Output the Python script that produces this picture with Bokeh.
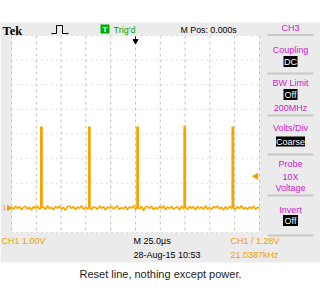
import numpy as np
from bokeh.plotting import figure
from bokeh.models import Range1d
from bokeh.core.properties import value
from bokeh.embed import file_html
from bokeh.resources import INLINE

# ---------------- data ----------------
pulse_times_us = [-95.5, -47.2, 1.5, 49.0, 97.5]
pulse_peaks_v = [3.30, 3.30, 3.30, 3.30, 3.30]
pulse_width_us = 1.3
trigger_level_v = 1.28
baseline_noise_v = [0.04, -0.06, 0.08, -0.03, 0.05, -0.08, 0.02, 0.07, -0.05, 0.03,
                    -0.09, 0.06, -0.02, 0.08, -0.06, 0.01, 0.05, -0.07, 0.09, -0.04,
                    0.03, -0.08, 0.06, -0.01, 0.07, -0.05, 0.02, -0.10, 0.05, 0.08,
                    -0.03, 0.06, -0.07, 0.04, -0.02, 0.09, -0.06, 0.03, -0.04, 0.07,
                    -0.08, 0.05, 0.01, -0.06, 0.08, -0.03, 0.06, -0.09, 0.04, -0.02,
                    0.07, -0.05, 0.03, 0.08, -0.07, 0.02, -0.04, 0.06, -0.08, 0.05,
                    -0.01, 0.09, -0.06, 0.03, -0.05, 0.07, -0.12, 0.04, 0.06, -0.03,
                    0.08, -0.07, 0.02, -0.05, 0.06, -0.02, 0.09, -0.08, 0.04, -0.03,
                    0.07, -0.06, 0.01, 0.05, -0.09, 0.08, -0.04, 0.03, -0.07, 0.06,
                    -0.02, 0.05, -0.08, 0.07, -0.03, 0.04, -0.06, 0.09, -0.05, 0.02,
                    -0.07, 0.06, -0.01, 0.08, -0.04, 0.03, -0.09, 0.05, -0.06, 0.07,
                    -0.02, 0.04, -0.08, 0.06, -0.03, 0.09, -0.05, 0.02, -0.07, 0.05,
                    -0.04, 0.08, -0.06, 0.03, -0.02]
time_span_us = [-125.0, 125.0]
panel_labels = ["CH3", "Coupling", "BW Limit", "200MHz", "Volts/Div", "Probe", "10X", "Voltage", "Invert"]
panel_boxes = ["DC", "Off", "Coarse", "Off"]
header_texts = ["Tek", "Trig'd", "M Pos: 0.000s"]
status_row1 = ["CH1  1.00V", "M 25.0\u00b5s", "CH1 / 1.28V"]
status_row2 = ["28-Aug-15 10:53", "21.0387kHz"]
caption = "Reset line, nothing except power."

# ---------------- build trace ----------------
t_base = np.linspace(time_span_us[0], time_span_us[1], len(baseline_noise_v))
pts = list(zip(t_base, baseline_noise_v))
for tp, vp in zip(pulse_times_us, pulse_peaks_v):
    pts += [(tp - 0.05, 0.0), (tp, vp), (tp + pulse_width_us, vp), (tp + pulse_width_us + 0.05, 0.0)]
pts.sort(key=lambda a: a[0])
tr_t = [a[0] for a in pts]
tr_v = [a[1] for a in pts]

# ---------------- layout ----------------
W, H = 320, 300
L, R, T, B = 11, 259, 35, 232
CX = 135.0
px_div_x = (R - L) / 10.0
px_div_y = (B - T) / 8.0
G = T + 7 * px_div_y          # ground level pixel
us_div = 25.0

p = figure(width=W, height=H, output_backend="svg", toolbar_location=None,
           x_axis_type=None, y_axis_type=None,
           x_range=Range1d(0, W), y_range=Range1d(H, 0), min_border=0)
p.min_border_left = p.min_border_right = p.min_border_top = p.min_border_bottom = 0
p.outline_line_color = None
p.background_fill_color = "white"
p.border_fill_color = "white"

p.extra_x_ranges = {"t": Range1d((0 - CX) / px_div_x * us_div, (W - CX) / px_div_x * us_div)}
p.extra_y_ranges = {"v": Range1d((G - H) / px_div_y, G / px_div_y)}

GRAY = "#ebebeb"
MAG = "#cc22cc"
ORG = "#f2a000"
FONT = value("Liberation Sans")

# scope background
p.quad(left=0, right=W, top=22, bottom=262, fill_color=GRAY, line_color=None)
p.quad(left=L, right=R, top=T, bottom=B, fill_color="white", line_color=None)

# grid
for i in range(11):
    x = L + i * px_div_x
    p.line([x, x], [T, B], line_color="#c4c4c4", line_width=1, line_dash="3 3")
for j in range(9):
    y = T + j * px_div_y
    p.line([L, R], [y, y], line_color="#c4c4c4", line_width=1, line_dash="1 4")

# trace
p.line(tr_t, tr_v, x_range_name="t", y_range_name="v", line_color="#f7a300", line_width=1.5)

# trigger level marker and ground marker
p.scatter([121.5], [trigger_level_v], x_range_name="t", y_range_name="v", marker="triangle",
          angle=np.pi / 2, size=6, fill_color=ORG, line_color=ORG)
p.scatter([8.5], [0.0], y_range_name="v", marker="triangle", angle=-np.pi / 2,
          size=5, fill_color=ORG, line_color=ORG)
p.text([1.5], [0.0], text=["1"], y_range_name="v", text_font=FONT, text_font_size="8px",
       text_color=ORG, text_baseline="middle", text_align="left")

# trigger position arrow at top
p.scatter([0.0], [40.5], x_range_name="t", marker="inverted_triangle", size=5,
          fill_color="black", line_color="black")
p.line([CX, CX], [36, 40], line_color="black", line_width=1)

# header
p.text([2], [30.5], text=[header_texts[0]], text_font=value("Liberation Serif"), text_font_style="bold",
       text_font_size="12.5px", text_color="black", text_baseline="middle")
p.line([51, 56, 56, 62, 62, 68], [33, 33, 25, 25, 33, 33], line_color="black", line_width=1)
p.quad(left=100, right=109, top=24, bottom=33, fill_color="#00b000", line_color=None)
p.text([104.5], [28.8], text=["T"], text_font=FONT, text_font_style="bold", text_font_size="8px",
       text_color="white", text_align="center", text_baseline="middle")
p.text([113], [29], text=[header_texts[1]], text_font=FONT, text_font_size="9px",
       text_color="#00a000", text_baseline="middle")
p.text([180], [29], text=[header_texts[2]], text_font=FONT, text_font_size="8.8px",
       text_color="black", text_baseline="middle")

# right panel
PX = 290
label_y = [27, 49, 82, 107, 127, 163, 176, 187, 209]
p.text([PX] * len(panel_labels), label_y, text=panel_labels, text_font=FONT, text_font_size="9px",
       text_color=MAG, text_align="center", text_baseline="middle")
box_y = [61, 94, 141, 220]
box_w = [14, 14, 29, 15]
p.rect([PX] * 4, box_y, width=box_w, height=[11, 11, 10, 11], fill_color="black", line_color=None)
p.text([PX] * 4, box_y, text=panel_boxes, text_font=FONT, text_font_size="9px",
       text_color="white", text_align="center", text_baseline="middle")
for y in [34.5, 73, 115, 154, 195, 235]:
    p.line([267, 313], [y, y], line_color="#c8c8c8", line_width=2)

# status bar
p.text([1, 133, 230], [240, 240, 240], text=status_row1, text_font=FONT, text_font_size="9px",
       text_color=[ORG, "black", ORG], text_baseline="middle")
p.text([133, 230], [254, 254], text=status_row2, text_font=FONT, text_font_size="9px",
       text_color=["black", ORG], text_baseline="middle")

# caption
p.text([160], [273.5], text=[caption], text_font=FONT, text_font_size="11px",
       text_color="#222222", text_align="center", text_baseline="middle")

open("out.html", "w").write(file_html(p, INLINE))
